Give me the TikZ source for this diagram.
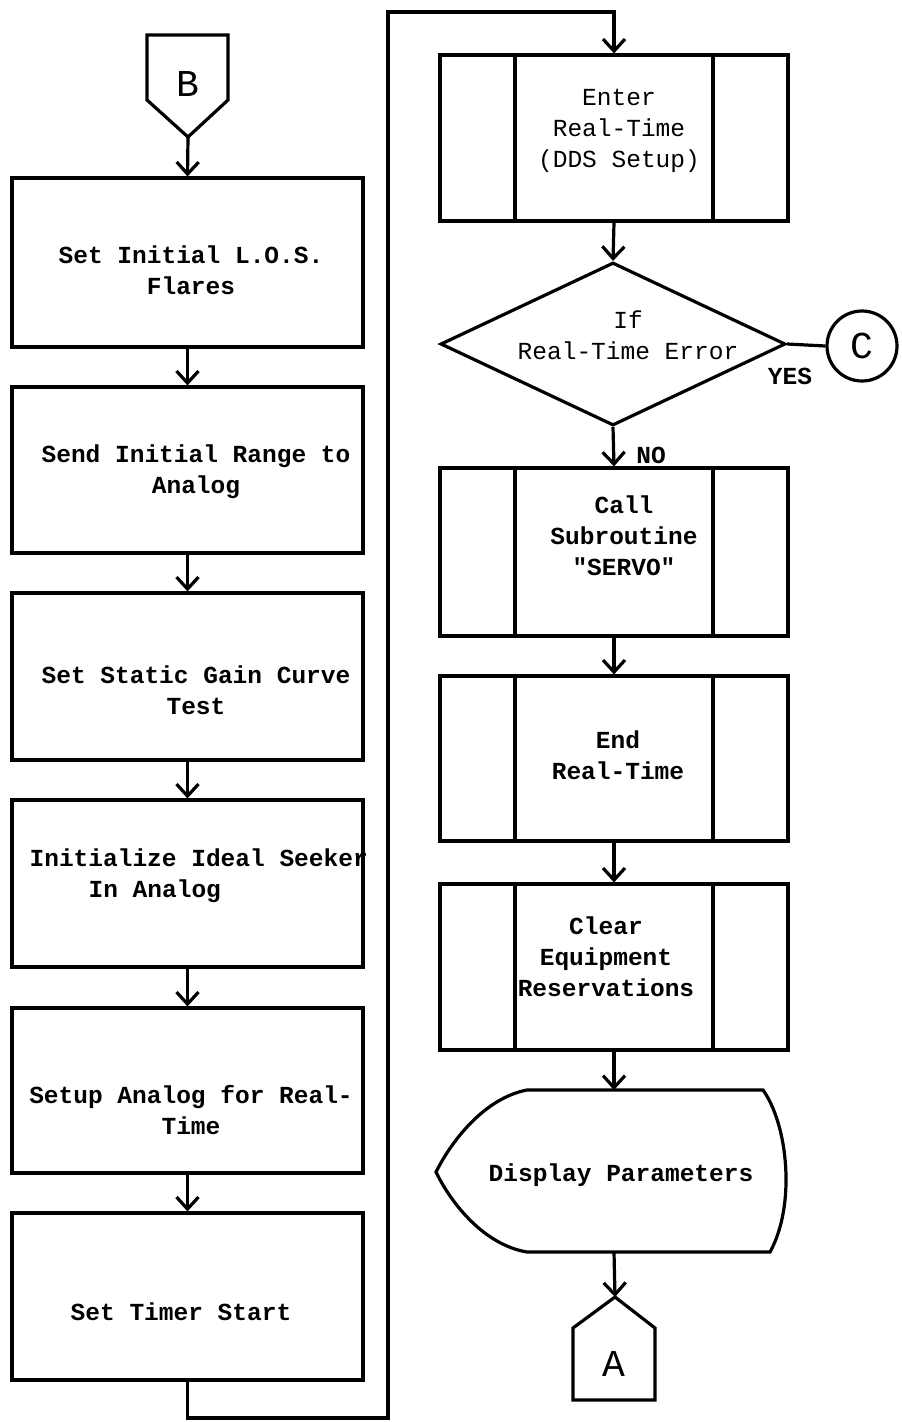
\documentclass[tikz,border=0pt]{standalone}
\usepackage{fontspec}
\newfontfamily\fcmono{Liberation Mono}
\usetikzlibrary{arrows.meta,shapes.geometric}
\begin{document}
\begin{tikzpicture}[x=1pt,y=-1pt,line width=3.2pt,
  lbox/.style={draw,rectangle,minimum width=351pt,inner sep=0pt},
  rbox/.style={draw,rectangle,minimum width=348pt,inner sep=0pt},
  txt/.style={font=\fcmono\bfseries\fontsize{24.5}{31}\selectfont,align=center,inner sep=0pt},
  txtr/.style={font=\fcmono\fontsize{24.5}{31}\selectfont,align=center,inner sep=0pt},
  letter/.style={font=\fcmono\fontsize{38}{38}\selectfont,inner sep=0pt},
  arr/.style={-{Straight Barb[length=12pt,width=22pt]}}]
\useasboundingbox (0,0) rectangle (902,1422);
% connector B
\draw (147,35) -- (228,35) -- (228,100) -- (188,137) -- (147,100) -- cycle;
\node[letter] (Bl) at (188,84) {B};
\coordinate (Btip) at (188,137);
% left column
\node[lbox,minimum height=169pt] (b1) at (187.5,262.5) {};
\node[lbox,minimum height=166pt] (b2) at (187.5,470) {};
\node[lbox,minimum height=167pt] (b3) at (187.5,676.5) {};
\node[lbox,minimum height=167pt] (b4) at (187.5,883.5) {};
\node[lbox,minimum height=165pt] (b5) at (187.5,1090.5) {};
\node[lbox,minimum height=167pt] (b6) at (187.5,1296.5) {};
\node[txt] (t1) at (191,270) {Set Initial L.O.S.\\Flares};
\node[txt] (t2) at (196,472) {Send Initial Range to\\Analog};
\node[txt] (t3) at (196,690) {Set Static Gain Curve\\Test};
\node[txt,align=left,anchor=west] (t4) at (28,876) {Initialize Ideal Seeker\\\hspace*{59pt}In Analog};
\node[txt] (t5) at (191,1110) {Setup Analog for Real-\\Time};
\node[txt] (t6) at (181,1312) {Set Timer Start};
\draw[arr] (Btip) -- (b1.north);
\draw[arr] (b1.south) -- (b2.north);
\draw[arr] (b2.south) -- (b3.north);
\draw[arr] (b3.south) -- (b4.north);
\draw[arr] (b4.south) -- (b5.north);
\draw[arr] (b5.south) -- (b6.north);
% loop to right column
\coordinate (lb) at (388,1418);
\coordinate (lt) at (388,12);
% right column
\node[rbox,minimum height=166pt] (r1) at (614,138) {};
\node[draw,diamond,minimum width=345pt,minimum height=163pt,inner sep=0pt] (d) at (613,344) {};
\node[rbox,minimum height=168pt] (r2) at (614,552) {};
\node[rbox,minimum height=165pt] (r3) at (614,758.5) {};
\node[rbox,minimum height=166pt] (r4) at (614,967) {};
\foreach \b in {r1,r2,r3,r4}{
  \draw ([xshift=-99pt]\b.north) -- ([xshift=-99pt]\b.south);
  \draw ([xshift=99pt]\b.north) -- ([xshift=99pt]\b.south);
}
\node[txtr] (tr1) at (619,131) {Enter\\Real-Time\\(DDS Setup)};
\node[txtr] (td) at (628,335) {If\\Real-Time Error};
\node[txt] (tr2) at (624,536) {Call\\Subroutine\\"SERVO"};
\node[txt] (tr3) at (618,755) {End\\Real-Time};
\node[txt] (tr4) at (606,957) {Clear\\Equipment\\Reservations};
\draw[arr] (b6.south) |- (lb) -- (lt) -| (r1.north);
\draw[arr] (r1.south) -- (d.north);
\node[draw,circle,minimum size=70pt,inner sep=0pt,font=\fcmono\fontsize{38}{38}\selectfont] (C) at (862,346) {C};
\draw (d.east) -- (C.west);
\node[txt] (yes) at (790,376) {YES};
\draw[arr] (d.south) -- (r2.north);
\node[txt] (no) at (651,455) {NO};
\draw[arr] (r2.south) -- (r3.north);
\draw[arr] (r3.south) -- (r4.north);
% display
\coordinate (dtop) at (614,1090);
\coordinate (dbot) at (614,1252);
\draw (527,1090) -- (763,1090) .. controls (788,1125) and (796,1205) .. (770,1252)
  -- (527,1252) .. controls (485,1245) and (452,1205) .. (436,1172)
  .. controls (452,1140) and (485,1098) .. (527,1090) -- cycle;
\node[txt] (tdisp) at (621,1175) {Display Parameters};
\draw[arr] (r4.south) -- (dtop);
% connector A
\draw (573,1328) -- (615,1297) -- (655,1328) -- (655,1400) -- (573,1400) -- cycle;
\coordinate (Apeak) at (615,1297);
\node[letter] (Al) at (614,1364) {A};
\draw[arr] (dbot) -- (Apeak);
\end{tikzpicture}
\end{document}
